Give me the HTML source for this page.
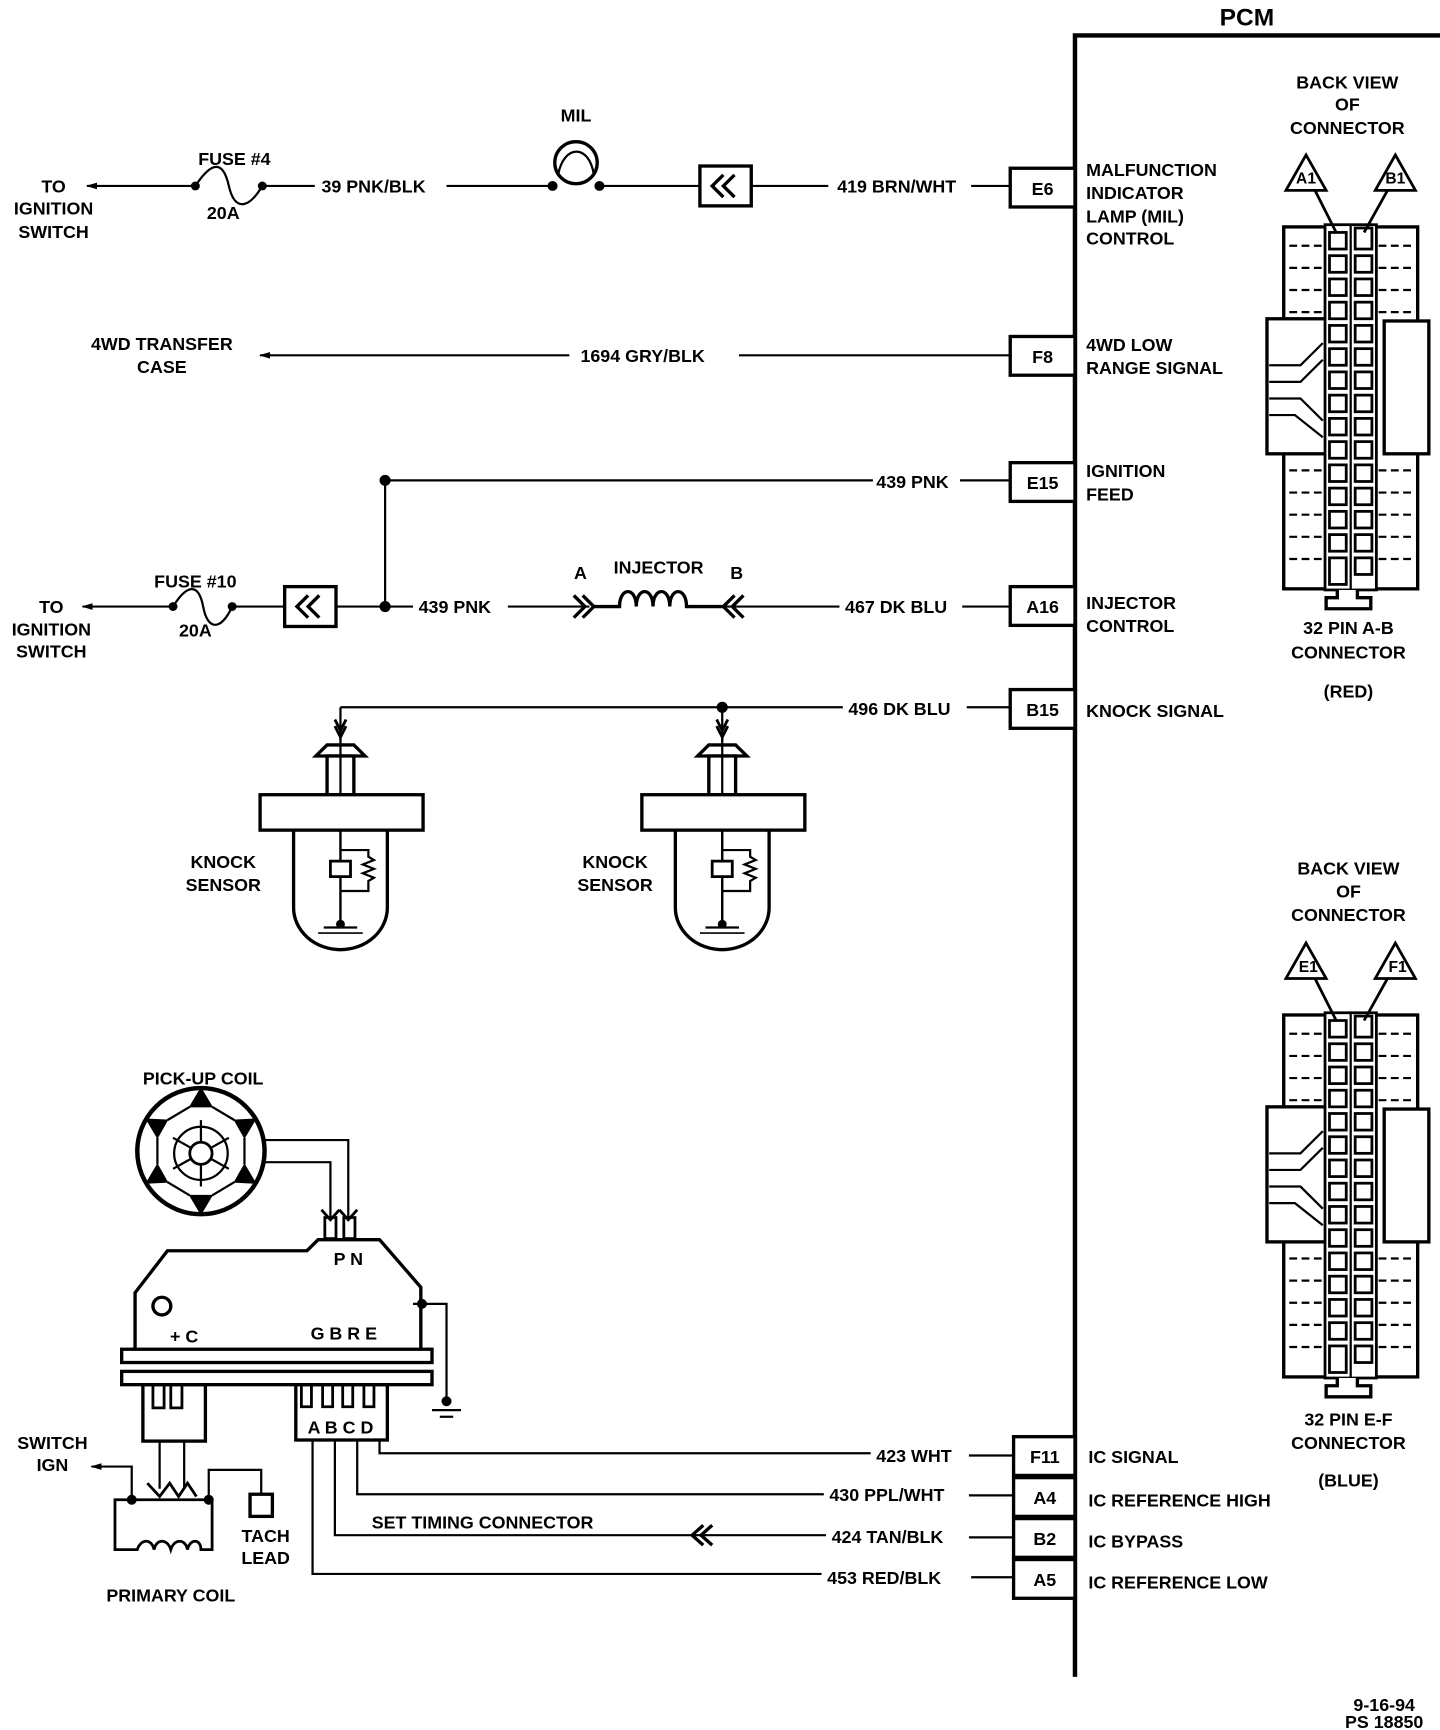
<!DOCTYPE html>
<html><head><meta charset="utf-8"><style>
html,body{margin:0;padding:0;background:#fff;}
svg{display:block}
text{font-family:"Liberation Sans",sans-serif;font-weight:bold;font-size:16px;fill:#000}
</style></head><body>
<svg width="1440" height="1730" viewBox="0 0 1290 1563" preserveAspectRatio="none" xmlns="http://www.w3.org/2000/svg">
<defs>
<marker id="ar" viewBox="0 0 10 10" refX="9" refY="5" markerWidth="10" markerHeight="10" orient="auto-start-reverse" markerUnits="userSpaceOnUse"><path d="M0,2 L10,5 L0,8" fill="#000"/></marker>
<g id="kn">
 <path d="M-5,-40 L0,-30 L5,-40 M-5,-34 L0,-24 L5,-34" fill="none" stroke="#000" stroke-width="2.5"/>
 <path d="M-22,-7 L-12,-17 L12,-17 L22,-7 Z" fill="#fff" stroke="#000" stroke-width="3"/>
 <rect x="-12" y="-7" width="24" height="35" fill="#fff" stroke="#000" stroke-width="3"/>
 <line x1="0" y1="-25" x2="0" y2="145" stroke="#000" stroke-width="2"/>
 <rect x="-72" y="28" width="146" height="32" fill="#fff" stroke="#000" stroke-width="3"/>
 <path d="M-42,60 L-42,130 A42,38 0 0 0 42,130 L42,60" fill="none" stroke="#000" stroke-width="3"/>
 <line x1="0" y1="60" x2="0" y2="145" stroke="#000" stroke-width="2"/>
 <rect x="-9" y="88" width="18" height="14" fill="#fff" stroke="#000" stroke-width="2.5"/>
 <path d="M0,78 L25,78 L25,84 L30,87 L20,91 L30,95 L20,99 L30,103 L25,106 L25,115 L0,115" fill="none" stroke="#000" stroke-width="2"/>
 <circle cx="0" cy="145" r="4"/>
 <line x1="-15" y1="148" x2="15" y2="148" stroke="#000" stroke-width="2"/>
 <line x1="-20" y1="153" x2="20" y2="153" stroke="#000" stroke-width="1.5"/>
</g>
<g id="conn">
 <rect x="1150" y="205" width="120" height="327" fill="#fff" stroke="#000" stroke-width="3"/>
 <path d="M1155,222 H1185 M1155,242 H1185 M1155,262 H1185 M1155,282 H1185 M1155,425 H1185 M1155,445 H1185 M1155,465 H1185 M1155,485 H1185 M1155,505 H1185 M1235,222 H1266 M1235,242 H1266 M1235,262 H1266 M1235,282 H1266 M1235,425 H1266 M1235,445 H1266 M1235,465 H1266 M1235,485 H1266 M1235,505 H1266" stroke="#000" stroke-width="2" stroke-dasharray="7 4"/>
 <rect x="1135" y="288" width="55" height="122" fill="#fff" stroke="#000" stroke-width="3"/>
 <rect x="1240" y="290" width="40" height="120" fill="#fff" stroke="#000" stroke-width="3"/>
 <path d="M1137,330 L1165,330 L1185,310 M1137,345 L1165,345 L1185,325 M1137,360 L1165,360 L1185,380 M1137,375 L1160,375 L1185,395" fill="none" stroke="#000" stroke-width="2"/>
 <rect x="1187" y="203" width="46" height="330" fill="#fff" stroke="#000" stroke-width="2.5"/>
 <path d="M1210,203 V533" stroke="#000" stroke-width="2"/>
 <g fill="#fff" stroke="#000" stroke-width="2.5">
  <rect x="1191" y="210" width="15" height="15"/><rect x="1214" y="206" width="15" height="19"/>
  <rect x="1191" y="231" width="15" height="15"/><rect x="1214" y="231" width="15" height="15"/>
  <rect x="1191" y="252" width="15" height="15"/><rect x="1214" y="252" width="15" height="15"/>
  <rect x="1191" y="273" width="15" height="15"/><rect x="1214" y="273" width="15" height="15"/>
  <rect x="1191" y="294" width="15" height="15"/><rect x="1214" y="294" width="15" height="15"/>
  <rect x="1191" y="315" width="15" height="15"/><rect x="1214" y="315" width="15" height="15"/>
  <rect x="1191" y="336" width="15" height="15"/><rect x="1214" y="336" width="15" height="15"/>
  <rect x="1191" y="357" width="15" height="15"/><rect x="1214" y="357" width="15" height="15"/>
  <rect x="1191" y="378" width="15" height="15"/><rect x="1214" y="378" width="15" height="15"/>
  <rect x="1191" y="399" width="15" height="15"/><rect x="1214" y="399" width="15" height="15"/>
  <rect x="1191" y="420" width="15" height="15"/><rect x="1214" y="420" width="15" height="15"/>
  <rect x="1191" y="441" width="15" height="15"/><rect x="1214" y="441" width="15" height="15"/>
  <rect x="1191" y="462" width="15" height="15"/><rect x="1214" y="462" width="15" height="15"/>
  <rect x="1191" y="483" width="15" height="15"/><rect x="1214" y="483" width="15" height="15"/>
  <rect x="1191" y="504" width="15" height="24"/><rect x="1214" y="504" width="15" height="15"/>
 </g>
 <path d="M1198,533 V540 H1188 V550 H1228 V540 H1216 V533" fill="#fff" stroke="#000" stroke-width="3"/>
 <path d="M1170,140 L1152,172 L1188,172 Z M1250,140 L1232,172 L1268,172 Z" fill="#fff" stroke="#000" stroke-width="2.5"/>
 <path d="M1178,172 L1197,210 M1243,172 L1222,210" stroke="#000" stroke-width="2.5"/>
</g>
</defs>

<!-- PCM -->
<text x="1117" y="23" text-anchor="middle" style="font-size:22px">PCM</text>
<path d="M1290,32 H963 V1515" fill="none" stroke="#000" stroke-width="4"/>

<!-- connectors -->
<use href="#conn"/>
<use href="#conn" y="712"/>
<g text-anchor="middle" style="font-size:14px">
<text x="1170" y="166" style="font-size:14px">A1</text><text x="1250" y="166" style="font-size:14px">B1</text>
<text x="1172" y="878" style="font-size:14px">E1</text><text x="1252" y="878" style="font-size:14px">F1</text>
</g>
<g text-anchor="middle">
<text x="1207" y="80">BACK VIEW</text><text x="1207" y="100">OF</text><text x="1207" y="121">CONNECTOR</text>
<text x="1208" y="573">32 PIN A-B</text><text x="1208" y="595">CONNECTOR</text><text x="1208" y="630">(RED)</text>
<text x="1208" y="790">BACK VIEW</text><text x="1208" y="811">OF</text><text x="1208" y="832">CONNECTOR</text>
<text x="1208" y="1288">32 PIN E-F</text><text x="1208" y="1309">CONNECTOR</text><text x="1208" y="1343">(BLUE)</text>
<text x="1240" y="1546">9-16-94</text><text x="1240" y="1561">PS 18850</text>
</g>

<!-- pin boxes -->
<g fill="#fff" stroke="#000" stroke-width="3">
<rect x="905" y="152" width="58" height="35"/>
<rect x="905" y="304" width="58" height="35"/>
<rect x="905" y="418" width="58" height="35"/>
<rect x="905" y="530" width="58" height="35"/>
<rect x="905" y="623" width="58" height="35"/>
<rect x="908" y="1298" width="55" height="35"/>
<rect x="908" y="1335" width="55" height="35"/>
<rect x="908" y="1372" width="55" height="35"/>
<rect x="908" y="1409" width="55" height="35"/>
</g>
<g text-anchor="middle">
<text x="934" y="176">E6</text><text x="934" y="328">F8</text><text x="934" y="442">E15</text>
<text x="934" y="554">A16</text><text x="934" y="647">B15</text><text x="936" y="1322">F11</text>
<text x="936" y="1359">A4</text><text x="936" y="1396">B2</text><text x="936" y="1433">A5</text>
</g>
<g>
<text x="973" y="159">MALFUNCTION</text><text x="973" y="180">INDICATOR</text><text x="973" y="201">LAMP (MIL)</text><text x="973" y="221">CONTROL</text>
<text x="973" y="317">4WD LOW</text><text x="973" y="338">RANGE SIGNAL</text>
<text x="973" y="431">IGNITION</text><text x="973" y="452">FEED</text>
<text x="973" y="550">INJECTOR</text><text x="973" y="571">CONTROL</text>
<text x="973" y="648">KNOCK SIGNAL</text>
<text x="975" y="1322">IC SIGNAL</text><text x="975" y="1361">IC REFERENCE HIGH</text>
<text x="975" y="1398">IC BYPASS</text><text x="975" y="1435">IC REFERENCE LOW</text>
</g>

<g stroke="#000" stroke-width="2" fill="none">
<line x1="175" y1="168" x2="78" y2="168" marker-end="url(#ar)"/>
<path d="M175,168 C190,145 200,145 205,168 C210,190 222,190 235,168"/>
<line x1="235" y1="168" x2="282" y2="168"/>
<line x1="400" y1="168" x2="495" y2="168"/>
<circle cx="516" cy="147" r="19" stroke-width="3"/>
<path d="M500,158 C505,130 528,130 532,158"/>
<line x1="537" y1="168" x2="627" y2="168"/>
<rect x="627" y="150" width="46" height="36" stroke-width="3"/>
<path d="M648,158 L638,168 L648,178 M658,158 L648,168 L658,178" stroke-width="3"/>
<line x1="673" y1="168" x2="742" y2="168"/>
<line x1="870" y1="168" x2="905" y2="168"/>
<line x1="510" y1="321" x2="233" y2="321" marker-end="url(#ar)"/>
<line x1="662" y1="321" x2="905" y2="321"/>
<line x1="345" y1="434" x2="782" y2="434"/>
<line x1="860" y1="434" x2="905" y2="434"/>
<line x1="345" y1="434" x2="345" y2="548"/>
<line x1="155" y1="548" x2="74" y2="548" marker-end="url(#ar)"/>
<path d="M155,548 C168,527 178,527 182,548 C186,570 198,570 208,548"/>
<line x1="208" y1="548" x2="255" y2="548"/>
<rect x="255" y="530" width="46" height="36" stroke-width="3"/>
<path d="M276,538 L266,548 L276,558 M286,538 L276,548 L286,558" stroke-width="3"/>
<line x1="301" y1="548" x2="370" y2="548"/>
<line x1="455" y1="548" x2="528" y2="548"/>
<path d="M514,538 L524,548 L514,558 M522,538 L532,548 L522,558" stroke-width="3"/>
<path d="M532,548 H555 C555,530 570,530 570,548 C570,530 585,530 585,548 C585,530 600,530 600,548 C600,530 615,530 615,548 V548 H648" stroke-width="3"/>
<path d="M658,538 L648,548 L658,558 M666,538 L656,548 L666,558" stroke-width="3"/>
<line x1="648" y1="548" x2="752" y2="548"/>
<line x1="862" y1="548" x2="905" y2="548"/>
<line x1="305" y1="639" x2="755" y2="639"/>
<line x1="866" y1="639" x2="905" y2="639"/>
<line x1="305" y1="639" x2="305" y2="670"/>
<line x1="647" y1="639" x2="647" y2="670"/>
</g>
<g fill="#000">
<circle cx="495" cy="168" r="4.5"/><circle cx="537" cy="168" r="4.5"/>
<circle cx="175" cy="168" r="4"/><circle cx="235" cy="168" r="4"/>
<circle cx="155" cy="548" r="4"/><circle cx="208" cy="548" r="4"/>
<circle cx="345" cy="434" r="5"/><circle cx="345" cy="548" r="5"/>
<circle cx="647" cy="639" r="5"/>
</g>
<use href="#kn" x="305" y="690"/>
<use href="#kn" x="647" y="690"/>

<g text-anchor="middle">
<text x="48" y="174">TO</text><text x="48" y="194">IGNITION</text><text x="48" y="215">SWITCH</text>
<text x="210" y="149">FUSE #4</text><text x="200" y="198">20A</text>
<text x="516" y="110">MIL</text>
<text x="145" y="316">4WD TRANSFER</text><text x="145" y="337">CASE</text>
<text x="46" y="554">TO</text><text x="46" y="574">IGNITION</text><text x="46" y="594">SWITCH</text>
<text x="175" y="531">FUSE #10</text><text x="175" y="575">20A</text>
<text x="520" y="523">A</text><text x="590" y="518">INJECTOR</text><text x="660" y="523">B</text>
<text x="200" y="784">KNOCK</text><text x="200" y="805">SENSOR</text>
<text x="551" y="784">KNOCK</text><text x="551" y="805">SENSOR</text>
<text x="182" y="980">PICK-UP COIL</text>
<text x="312" y="1143">P N</text>
<text x="165" y="1213">+ C</text>
<text x="308" y="1210">G B R E</text>
<text x="305" y="1295">A B C D</text>
<text x="47" y="1309">SWITCH</text><text x="47" y="1329">IGN</text>
<text x="238" y="1393">TACH</text><text x="238" y="1413">LEAD</text>
<text x="153" y="1447">PRIMARY COIL</text>
</g>
<text x="288" y="174">39 PNK/BLK</text>
<text x="750" y="174">419 BRN/WHT</text>
<text x="520" y="327">1694 GRY/BLK</text>
<text x="785" y="441">439 PNK</text>
<text x="375" y="554">439 PNK</text>
<text x="757" y="554">467 DK BLU</text>
<text x="760" y="646">496 DK BLU</text>
<text x="785" y="1321">423 WHT</text>
<text x="743" y="1356">430 PPL/WHT</text>
<text x="745" y="1394">424 TAN/BLK</text>
<text x="741" y="1431">453 RED/BLK</text>
<text x="333" y="1381">SET TIMING CONNECTOR</text>

<!-- pickup coil -->
<g stroke="#000" fill="none">
<circle cx="180" cy="1040" r="57" stroke-width="4"/>
<path d="M180,983 L170,1000 L190,1000 Z M180,1097 L170,1080 L190,1080 Z M131,1011 L150,1012 L141,1028 Z M229,1011 L210,1012 L219,1028 Z M131,1069 L150,1068 L141,1052 Z M229,1069 L210,1068 L219,1052 Z" fill="#000" stroke-width="1"/>
<path d="M170,1000 L150,1012 M190,1000 L210,1012 M219,1028 L219,1052 M210,1068 L190,1080 M170,1080 L150,1068 M141,1052 L141,1028" stroke-width="2"/>
<circle cx="180" cy="1042" r="10" stroke-width="2.5"/>
<circle cx="180" cy="1042" r="24" stroke-width="2"/>
<path d="M180,1032 L180,1012 M189,1037 L205,1028 M189,1047 L205,1056 M180,1052 L180,1072 M171,1047 L155,1056 M171,1037 L155,1028" stroke-width="2"/>
<path d="M237,1030 H312 V1100 M237,1050 H296 V1100" stroke-width="2"/>
<path d="M288,1093 L296,1102 L304,1093 M304,1093 L312,1102 L320,1093" stroke-width="2.5"/>
<rect x="291" y="1100" width="10" height="19" stroke-width="2.5"/><rect x="308" y="1100" width="10" height="19" stroke-width="2.5"/>
<!-- module -->
<path d="M121,1218 V1168 L150,1130 L275,1130 L285,1120 L340,1120 L377,1163 V1218" stroke-width="3"/>
<circle cx="145" cy="1180" r="8" stroke-width="3"/>
<rect x="109" y="1219" width="278" height="12" stroke-width="3"/>
<rect x="109" y="1239" width="278" height="12" stroke-width="3"/>
<rect x="128" y="1251" width="56" height="51" stroke-width="3"/>
<rect x="265" y="1251" width="82" height="50" stroke-width="3"/>
<path d="M137,1251 V1272 H147 V1251 M153,1251 V1272 H163 V1251 M270,1251 V1271 H279 V1251 M289,1251 V1271 H298 V1251 M307,1251 V1271 H316 V1251 M326,1251 V1271 H335 V1251" stroke-width="2.5"/>
<path d="M370,1178 H400 V1268" stroke-width="2"/>
<line x1="387" y1="1274" x2="413" y2="1274" stroke-width="2"/><line x1="394" y1="1280" x2="406" y2="1280" stroke-width="2"/>
<!-- primary coil -->
<path d="M143,1302 V1345 M165,1302 V1345" stroke-width="2"/>
<path d="M132,1340 L143,1352 L152,1340 L160,1352 L168,1340 L176,1352" stroke-width="2.5"/>
<path d="M118,1355 V1325 H82" stroke-width="2" marker-end="url(#ar)"/>
<path d="M187,1355 V1328 H234 V1350" stroke-width="2"/>
<rect x="224" y="1350" width="20" height="20" stroke-width="3"/>
<path d="M103,1355 H190 V1400 H180 C180,1390 170,1390 168,1400 C166,1390 156,1390 153,1400 C150,1390 140,1390 138,1400 C136,1390 126,1390 123,1400 H103 Z" stroke-width="2.5"/>
<!-- IC wires -->
<path d="M340,1301 V1313 H780 M868,1315 H908" stroke-width="2"/>
<path d="M320,1301 V1350 H738 M868,1351 H908" stroke-width="2"/>
<path d="M300,1301 V1387 H740 M868,1389 H908" stroke-width="2"/>
<path d="M630,1378 L620,1387 L630,1396 M638,1378 L628,1387 L638,1396" stroke-width="3"/>
<path d="M280,1301 V1422 H736 M870,1425 H908" stroke-width="2"/>
</g>
<g fill="#000">
<circle cx="378" cy="1178" r="4.5"/><circle cx="400" cy="1266" r="4.5"/>
<circle cx="118" cy="1355" r="4.5"/><circle cx="187" cy="1355" r="4.5"/>
</g>
</svg>
</body></html>
